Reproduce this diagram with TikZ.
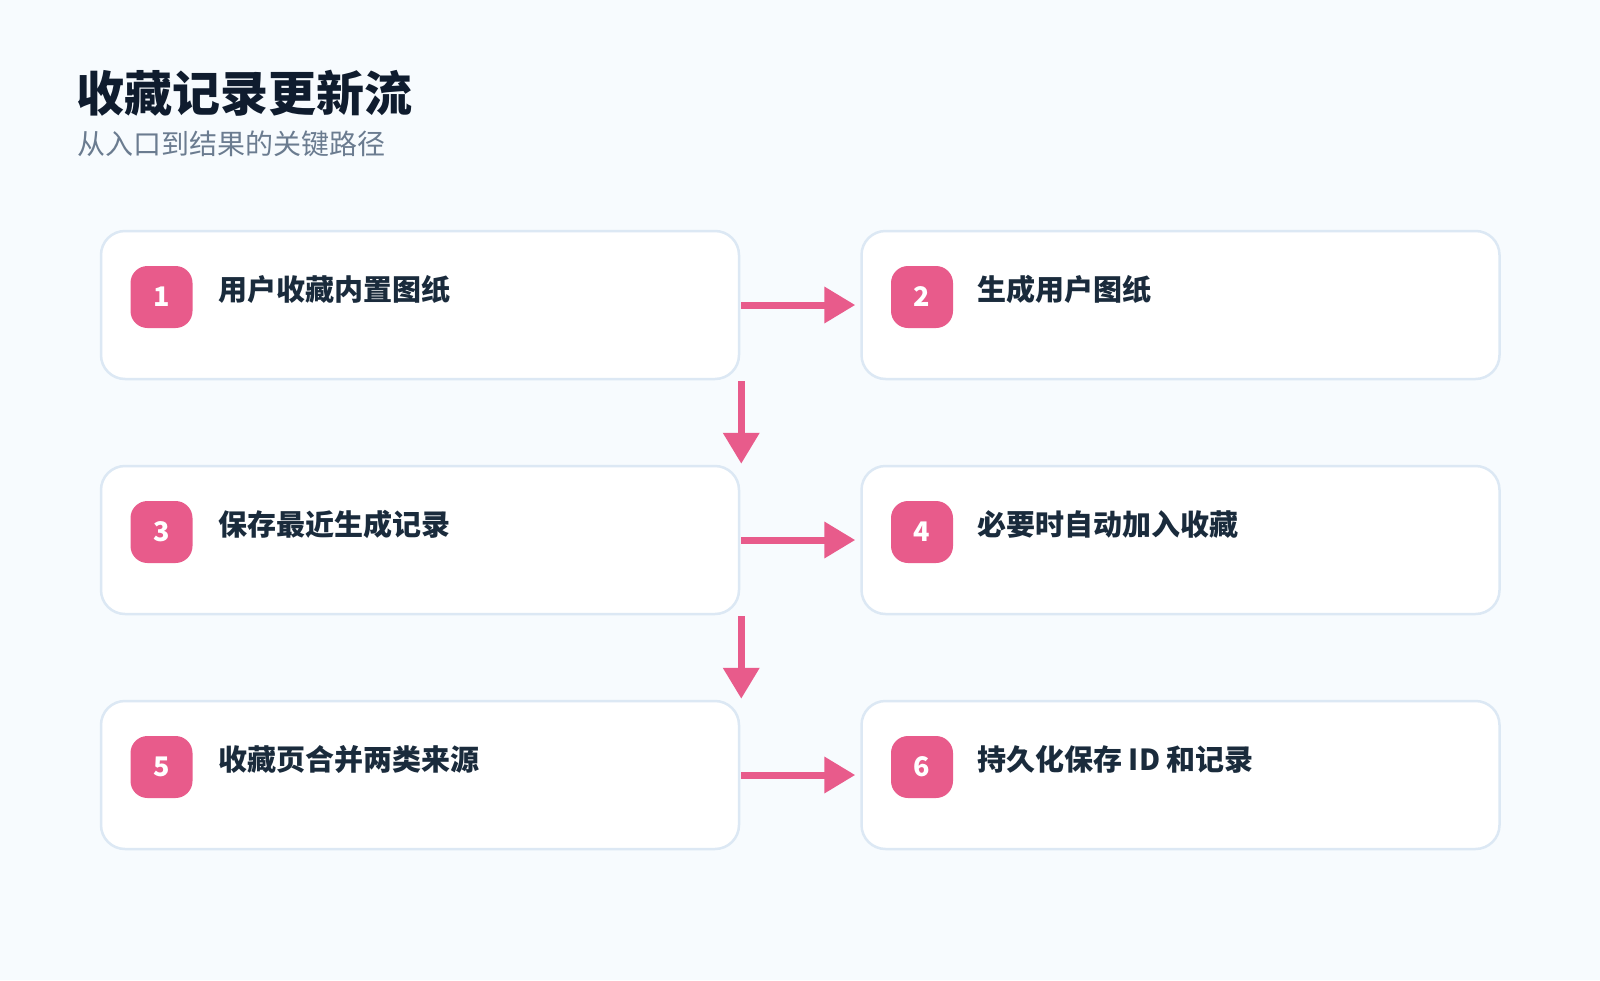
\documentclass[tikz,border=0pt]{standalone}
\usepackage{fontspec}
\setmainfont{Noto Sans CJK SC}
\usetikzlibrary{arrows.meta,calc}
\definecolor{bgc}{HTML}{F7FBFE}
\definecolor{bordc}{HTML}{DCE8F4}
\definecolor{pinkc}{HTML}{E85B8B}
\definecolor{titlec}{HTML}{0F1C2E}
\definecolor{labelc}{HTML}{1A2B3C}
\definecolor{subc}{HTML}{6B7C90}
\tikzset{
  stepcard/.style={draw=bordc, line width=2.5pt, fill=white, rounded corners=24pt,
    minimum width=638pt, minimum height=148pt, inner sep=0pt},
  badge/.style={fill=pinkc, rounded corners=17pt, minimum width=62pt, minimum height=62pt,
    inner sep=0pt, text=white, font=\fontsize{27}{30}\selectfont\bfseries},
  steplabel/.style={anchor=base west, inner sep=0pt, text=labelc,
    font=\fontsize{29}{33}\selectfont\bfseries},
  flow/.style={draw=pinkc, line width=7pt, -{Triangle[length=31pt,width=35pt]}}
}
\begin{document}
\begin{tikzpicture}[x=1pt,y=-1pt]
\fill[bgc] (0,0) rectangle (1600,980);
\useasboundingbox (0,0) rectangle (1600,980);

\node[anchor=base west, inner sep=0pt, text=titlec, font=\fontsize{48}{52}\selectfont\bfseries] (title) at (76,111) {收藏记录更新流};
\node[anchor=base west, inner sep=0pt, text=subc, font=\fontsize{28}{32}\selectfont] (sub) at (77,154) {从入口到结果的关键路径};

% cards
\node[stepcard] (c1) at (420,305) {};
\node[stepcard] (c2) at (1180.5,305) {};
\node[stepcard] (c3) at (420,540) {};
\node[stepcard] (c4) at (1180.5,540) {};
\node[stepcard] (c5) at (420,775) {};
\node[stepcard] (c6) at (1180.5,775) {};

% badges
\node[badge] (n1) at (161.5,297) {1};
\node[badge] (n2) at (922,297) {2};
\node[badge] (n3) at (161.5,532) {3};
\node[badge] (n4) at (922,532) {4};
\node[badge] (n5) at (161.5,767) {5};
\node[badge] (n6) at (922,767) {6};

% labels
\node[steplabel] (t1) at (218,300) {用户收藏内置图纸};
\node[steplabel] (t2) at (977,300) {生成用户图纸};
\node[steplabel] (t3) at (218,535) {保存最近生成记录};
\node[steplabel] (t4) at (977,535) {必要时自动加入收藏};
\node[steplabel] (t5) at (218,770) {收藏页合并两类来源};
\node[steplabel] (t6) at (977,770) {持久化保存 ID 和记录};

% connectors
\draw[flow, shorten <=1pt, shorten >=5pt] (c1.east) -- (c2.west);
\draw[flow, shorten <=1pt, shorten >=5pt] (c3.east) -- (c4.west);
\draw[flow, shorten <=1pt, shorten >=5pt] (c5.east) -- (c6.west);
\draw[flow, shorten <=1pt, shorten >=1pt] ($(c1.south east)+(1,0)$) -- ($(c3.north east)+(1,0)$);
\draw[flow, shorten <=1pt, shorten >=1pt] ($(c3.south east)+(1,0)$) -- ($(c5.north east)+(1,0)$);
\end{tikzpicture}
\end{document}
